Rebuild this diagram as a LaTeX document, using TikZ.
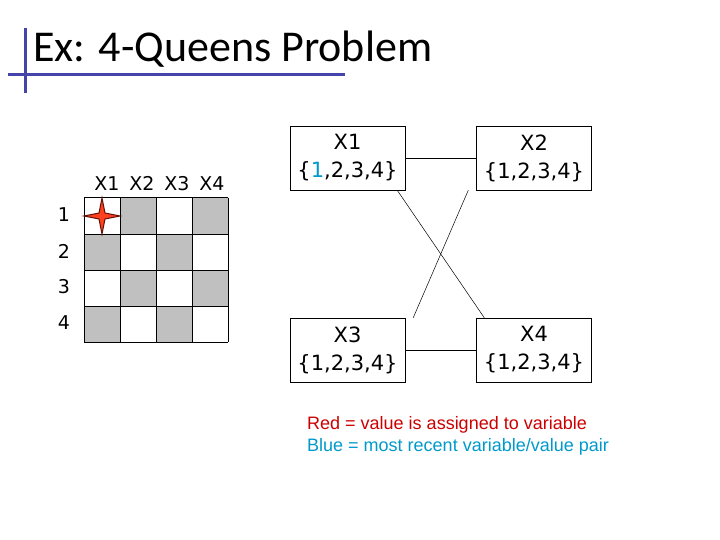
\documentclass[tikz,border=0pt]{standalone}
\usepackage{fontspec}
\setmainfont{DejaVu Sans}
\newfontfamily\titlefont{Carlito}
\newfontfamily\legfont{Liberation Sans}
\definecolor{barblue}{RGB}{68,68,170}
\definecolor{cellgray}{RGB}{192,192,192}
\definecolor{legred}{RGB}{204,0,0}
\definecolor{legblue}{RGB}{0,153,204}
\begin{document}
\begin{tikzpicture}[x=1pt,y=-1pt,
  var/.style={draw,minimum width=115pt,minimum height=64pt,inner sep=0pt,align=center,font=\fontsize{21}{28}\selectfont},
  lbl/.style={font=\fontsize{19}{20}\selectfont,inner sep=0pt},
  link/.style={draw,line width=0.5pt}]
\useasboundingbox (0,0) rectangle (720,540);
% title
\draw[barblue,line width=3pt] (25,28) -- (25,93);
\draw[barblue,line width=3pt] (8,75) -- (345,75);
\node[anchor=base west,inner sep=0pt,font=\titlefont\fontsize{44}{48}\selectfont] (title) at (33,62) {Ex: 4-Queens Problem};
% board
\foreach \r in {0,...,3}{
  \foreach \c in {0,...,3}{
    \pgfmathtruncatemacro\p{mod(\r+\c,2)}
    \ifnum\p=1
      \fill[cellgray] (84+36*\c,198+36*\r) rectangle ++(36,36);
    \fi
  }
}
\foreach \i in {0,...,4}{
  \draw[line width=1pt] (84+36*\i,198) -- (84+36*\i,342);
  \draw[line width=1pt] (84,198+36*\i) -- (228,198+36*\i);
}
\foreach \c/\t in {0/X1,1/X2,2/X3,3/X4}
  \node[lbl,anchor=base] (col\c) at (107+35*\c,191) {\t};
\foreach \r in {1,...,4}
  \node[lbl] (row\r) at (64,179+36*\r) {\r};
% queen star
\draw[fill={rgb,255:red,255;green,64;blue,32},draw={rgb,255:red,100;green,20;blue,10},line width=1pt]
  (102,198) -- (105,213) -- (120,216) -- (105,219) -- (102,234) -- (99,219) -- (84,216) -- (99,213) -- cycle;
% variable nodes
\node[var] (x1) at (347.5,158) {X1\\{\{\textcolor{legblue}{1},2,3,4\}}};
\node[var] (x2) at (534,158) {X2\\\{1,2,3,4\}};
\node[var] (x3) at (347.5,350) {X3\\\{1,2,3,4\}};
\node[var] (x4) at (534,350) {X4\\\{1,2,3,4\}};
\draw[link] (x1) -- (x2);
\draw[link] (x3) -- (x4);
\draw[link] ([xshift=-8pt]x1.south east) -- ([xshift=8pt]x4.north west);
\draw[link] ([xshift=-8pt]x2.south west) -- ([xshift=8pt]x3.north east);
% legend
\node[anchor=base west,inner sep=0pt,text=legred,font=\legfont\fontsize{18}{20}\selectfont] (leg1) at (307,429) {Red = value is assigned to variable};
\node[anchor=base west,inner sep=0pt,text=legblue,font=\legfont\fontsize{18}{20}\selectfont] (leg2) at (307,451) {Blue = most recent variable/value pair};
\end{tikzpicture}
\end{document}
